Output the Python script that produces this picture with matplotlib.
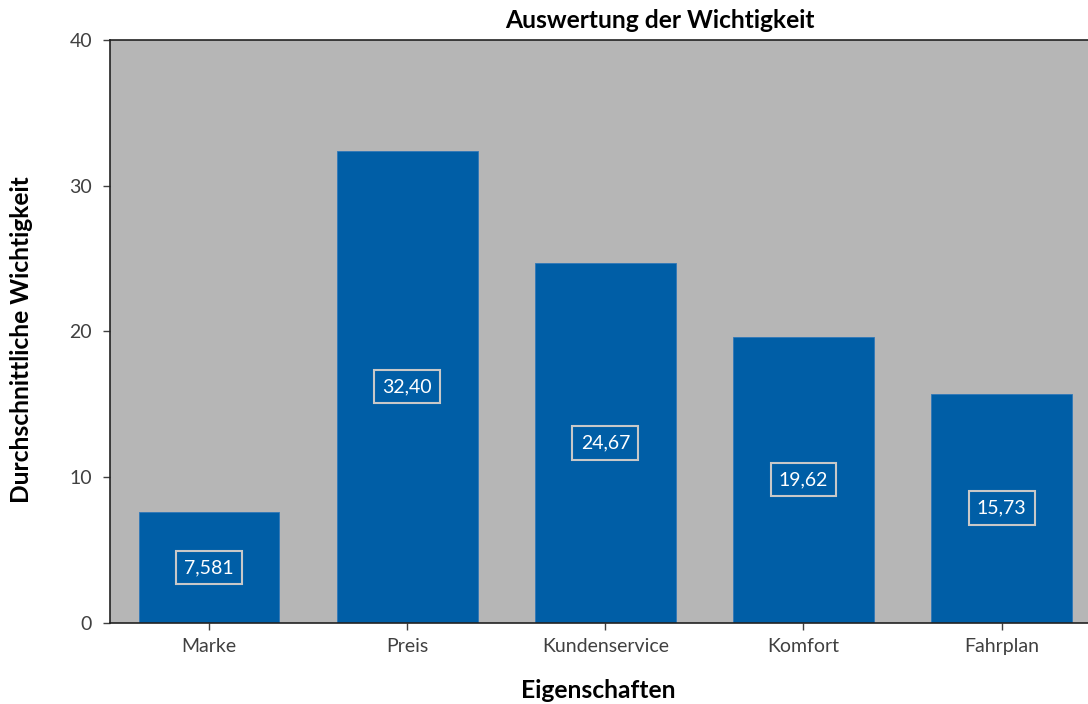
import matplotlib
matplotlib.use("Agg")
import matplotlib.pyplot as plt

categories = ["Marke", "Preis", "Kundenservice", "Komfort", "Fahrplan"]
values = [7.581, 32.40, 24.67, 19.62, 15.73]
value_labels = ["7,581", "32,40", "24,67", "19,62", "15,73"]
y_ticks = [0, 10, 20, 30, 40]

plt.rcParams['font.family'] = ['Lato', 'DejaVu Sans']

fig = plt.figure(figsize=(10.88, 7.04), dpi=100)
ax = fig.add_axes([110/1088, 1 - 622.7/704, (1100.7 - 110)/1088, (622.7 - 40)/704])
ax.set_facecolor("#b6b6b6")

x = list(range(len(categories)))
bars = ax.bar(x, values, width=0.71, color="#005ea6", edgecolor="#2f78b8", linewidth=0.6, zorder=2)

for xi, v, lab in zip(x, values, value_labels):
    ax.text(xi, v / 2, lab, ha="center", va="center", color="white", fontsize=14,
            bbox=dict(boxstyle="square,pad=0.42", facecolor="none", edgecolor="#c8c8c8", linewidth=1.5),
            zorder=3)

ax.set_xlim(-0.5, 4.5)
ax.set_ylim(0, 40)
ax.set_yticks(y_ticks)
ax.set_yticklabels([str(t) for t in y_ticks])
ax.set_xticks(x)
ax.set_xticklabels(categories)
ax.tick_params(axis="both", labelsize=14, colors="#404040", direction="out", length=5, width=1)
ax.tick_params(axis="y", pad=8)
ax.tick_params(axis="x", pad=6)
for s in ["left", "bottom", "top"]:
    ax.spines[s].set_color("#222222")
    ax.spines[s].set_linewidth(1.2)
ax.spines["right"].set_visible(False)

fig.text(660/1088, 1 - 20/704, "Auswertung der Wichtigkeit", ha="center", va="center",
         fontsize=17.7, fontweight="bold", color="black")
fig.text(22/1088, 1 - 340/704, "Durchschnittliche Wichtigkeit", ha="center", va="center",
         rotation=90, fontsize=17.7, fontweight="bold", color="black")
fig.text(598/1088, 1 - 690/704, "Eigenschaften", ha="center", va="center",
         fontsize=17.7, fontweight="bold", color="black")

fig.savefig("out.png", dpi=100)
